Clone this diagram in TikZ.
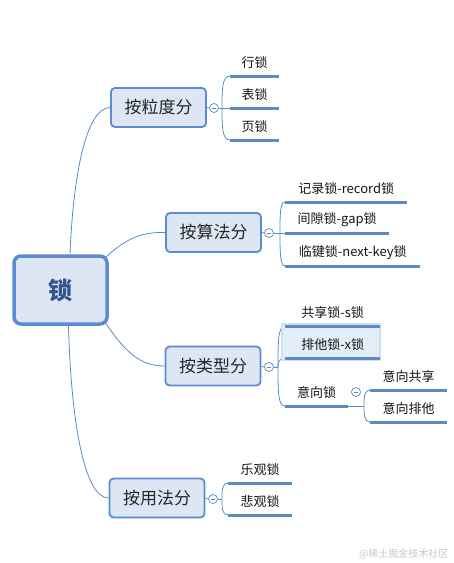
\documentclass[tikz,border=0pt]{standalone}
\usepackage{fontspec}
\setmainfont{Noto Sans CJK SC}
\definecolor{lineblue}{HTML}{5B8AC6}
\definecolor{boxfill}{HTML}{DCE6F4}
\definecolor{boxborder}{HTML}{5B8BD0}
\definecolor{roottext}{HTML}{34548C}
\definecolor{selfill}{HTML}{E3EEF8}
\definecolor{selglow}{HTML}{CFDFEF}
\pgfdeclarelayer{background}
\pgfsetlayers{background,main}
\begin{document}
\begin{tikzpicture}[x=1pt,y=-1pt,
  rootbox/.style={draw=boxborder, line width=3.5pt, fill=boxfill, rounded corners=7pt,
    minimum width=93pt, minimum height=68pt, inner sep=0pt,
    font=\fontsize{24}{28}\selectfont\bfseries, text=roottext},
  catbox/.style={draw=boxborder, line width=1.8pt, fill=boxfill, rounded corners=4pt,
    minimum width=95pt, minimum height=39pt, inner sep=0pt,
    font=\fontsize{17}{20}\selectfont, text=black!85},
  leaf/.style={anchor=south west, minimum height=26pt, inner sep=0pt,
    font=\fontsize{13}{15}\selectfont, text=black!92},
  uline/.style={draw=lineblue, line width=3pt},
  conn/.style={draw=lineblue, line width=0.8pt},
  fold/.style={circle, draw=lineblue, fill=white, line width=0.7pt, minimum size=9pt, inner sep=0pt,
    path picture={\draw[lineblue, line width=0.7pt]
      ([xshift=-2.4pt]path picture bounding box.center) -- ([xshift=2.4pt]path picture bounding box.center);}},
  selbox/.style={fill=selfill, draw=selglow, line width=2pt},
]
\useasboundingbox (0,0) rectangle (454,563);

% selected highlight
\path[selbox] (282,324) rectangle (380,360);

% main boxes
\node[rootbox] (root) at (60.5,290) {锁};
\node[catbox] (c1) at (158.5,107.5) {按粒度分};
\node[catbox] (c2) at (213.5,232.5) {按算法分};
\node[catbox] (c3) at (213,366) {按类型分};
\node[catbox] (c4) at (157,498) {按用法分};

% leaves
\node[leaf, minimum width=49pt] (l11) at (230,76) {行锁};
\node[leaf, minimum width=49pt] (l12) at (230,108) {表锁};
\node[leaf, minimum width=49pt] (l13) at (230,140) {页锁};
\node[leaf, minimum width=122pt] (l21) at (285,202) {记录锁-record锁};
\node[leaf, minimum width=104pt] (l22) at (285,233) {间隙锁-gap锁};
\node[leaf, minimum width=135pt] (l23) at (285,266) {临键锁-next-key锁};
\node[leaf, minimum width=95pt] (l31) at (285,326) {共享锁-s锁};
\node[leaf, minimum width=95pt] (l32) at (285,358) {排他锁-x锁};
\node[leaf, minimum width=63pt] (l33) at (285,406) {意向锁};
\node[leaf, minimum width=77pt] (l41) at (370,390) {意向共享};
\node[leaf, minimum width=77pt] (l42) at (370,422) {意向排他};
\node[leaf, minimum width=64pt] (l51) at (228,483) {乐观锁};
\node[leaf, minimum width=64pt] (l52) at (228,515) {悲观锁};

\foreach \n in {l11,l12,l13,l21,l22,l23,l31,l32,l33,l41,l42,l51,l52}
  \draw[uline] (\n.south west) -- (\n.south east);

% fold markers
\node[fold] (f1) at (214,108) {};
\node[fold] (f2) at (269,233) {};
\node[fold] (f3) at (269,367) {};
\node[fold] (f4) at (213,499) {};
\node[fold] (f5) at (356,392) {};

% watermark
\node[text=black!22, font=\fontsize{10}{12}\selectfont, anchor=east] (wm) at (452,554) {@稀土掘金技术社区};

\begin{pgfonlayer}{background}
  % root to categories
  \draw[conn] ([xshift=9.5pt]root.north) .. controls (73,180) and (85,108) .. (c1.west);
  \draw[conn] ([xshift=-4pt,yshift=-4pt]root.north east) .. controls (128,236) and (145,232) .. (c2.west);
  \draw[conn] ([xshift=-4pt,yshift=4pt]root.south east) .. controls (125,352) and (140,366) .. (c3.west);
  \draw[conn] ([xshift=8pt]root.south) .. controls (71,420) and (84,498) .. (c4.west);
  % category to fold
  \draw[conn] (c1.east) -- (f1.west);
  \draw[conn] (c2.east) -- (f2.west);
  \draw[conn] (c3.east) -- (f3.west);
  \draw[conn] (c4.east) -- (f4.west);
  % group 1
  \draw[conn] (f1.east) -- (l12.south west);
  \draw[conn] (l11.south west) .. controls (222,76) and (222,90) .. (222,108)
              .. controls (222,126) and (222,140) .. (l13.south west);
  % group 2
  \draw[conn] (f2.east) -- (l22.south west);
  \draw[conn] (l21.south west) .. controls (280,202) and (280,215) .. (280,233)
              .. controls (280,251) and (280,266) .. (l23.south west);
  % group 3
  \draw[conn] (f3.east) -- (278,367);
  \draw[conn] (l31.south west) .. controls (278,326) and (278,342) .. (278,367)
              .. controls (278,392) and (278,406) .. (l33.south west);
  \draw[conn] (l32.south west) .. controls (279,358) and (278,362) .. (278,367);
  % group 4
  \draw[conn] (f4.east) -- (222,499);
  \draw[conn] (l51.south west) .. controls (222,483) and (222,490) .. (222,499)
              .. controls (222,508) and (222,515) .. (l52.south west);
  % intent sub-group
  \draw[conn] (l33.south east) -- (364,406);
  \draw[conn] (l41.south west) .. controls (364,390) and (364,398) .. (364,406)
              .. controls (364,414) and (364,422) .. (l42.south west);
\end{pgfonlayer}
\end{tikzpicture}
\end{document}
